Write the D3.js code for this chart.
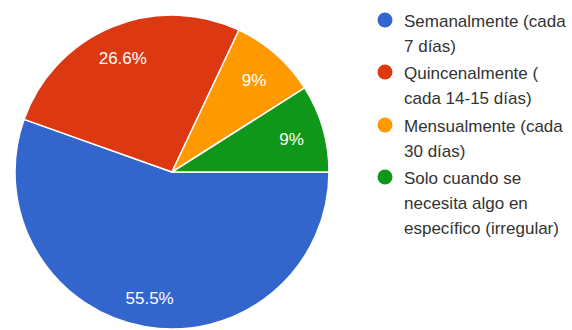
<!DOCTYPE html>
<html>
<head>
<meta charset="utf-8">
<script src="https://cdn.jsdelivr.net/npm/d3@7"></script>
<style>
  html, body { margin: 0; padding: 0; background: #fff; }
  svg { display: block; }
</style>
</head>
<body>
<svg id="chart" width="572" height="330"></svg>
<script>
// Frecuencia de compra: categorías, porcentajes y colores de cada porción
const categories = [
  ["Semanalmente (cada", "7 días)"],
  ["Quincenalmente (", "cada 14-15 días)"],
  ["Mensualmente (cada", "30 días)"],
  ["Solo cuando se", "necesita algo en", "específico (irregular)"]
];
const values = [55.5, 26.6, 9, 9];
const valueLabels = ["55.5%", "26.6%", "9%", "9%"];
const colors = ["#3366cc", "#dc3912", "#ff9900", "#109618"];

const svg = d3.select("#chart");
const cx = 172, cy = 172, R = 157;
const font = "Arial, 'Liberation Sans', sans-serif";

const color = d3.scaleOrdinal().domain(d3.range(values.length)).range(colors);

// Porciones empezando en las 3 en punto, sentido horario
const pie = d3.pie()
  .sort(null)
  .value(d => d)
  .startAngle(Math.PI / 2)
  .endAngle(Math.PI / 2 + 2 * Math.PI);

const arcs = pie(values);
const arc = d3.arc().innerRadius(0).outerRadius(R);
const labelArc = d3.arc().innerRadius(R * 0.8).outerRadius(R * 0.8);

const g = svg.append("g").attr("transform", `translate(${cx},${cy})`);

g.selectAll("path.slice")
  .data(arcs)
  .join("path")
  .attr("class", "slice")
  .attr("d", arc)
  .attr("fill", (d, i) => color(i))
  .attr("stroke", "#ffffff")
  .attr("stroke-width", 1.5)
  .attr("stroke-linejoin", "round");

g.selectAll("text.pct")
  .data(arcs)
  .join("text")
  .attr("class", "pct")
  .attr("transform", d => {
    const [x, y] = labelArc.centroid(d);
    return `translate(${x - 1},${y + 2.5})`;
  })
  .attr("text-anchor", "middle")
  .attr("dominant-baseline", "central")
  .attr("fill", "#ffffff")
  .attr("font-family", font)
  .attr("font-size", 17)
  .text((d, i) => valueLabels[i]);

// Leyenda a la derecha
const legendX = 385, legendY = [20, 72, 125, 177], lineH = 25;
const legend = svg.append("g");
categories.forEach((lines, i) => {
  legend.append("circle")
    .attr("cx", legendX)
    .attr("cy", legendY[i])
    .attr("r", 7.5)
    .attr("fill", color(i));
  const t = legend.append("text")
    .attr("x", legendX + 19)
    .attr("y", legendY[i])
    .attr("font-family", font)
    .attr("font-size", 17)
    .attr("fill", "#333333")
    .attr("dominant-baseline", "central");
  lines.forEach((ln, j) => {
    t.append("tspan")
      .attr("x", legendX + 19)
      .attr("y", legendY[i] + 1 + j * lineH)
      .text(ln);
  });
});
</script>
</body>
</html>
